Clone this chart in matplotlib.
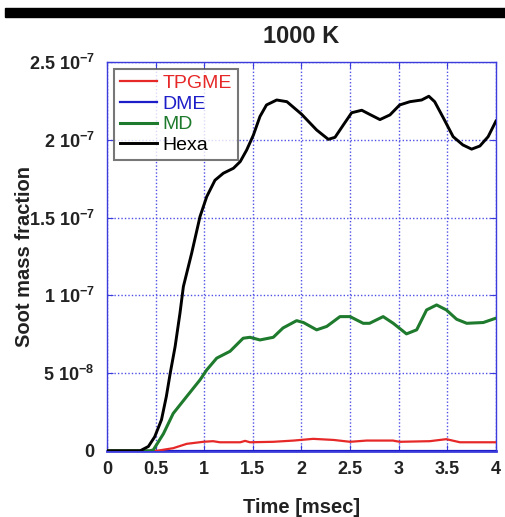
import matplotlib
matplotlib.use("Agg")
import matplotlib.pyplot as plt
import numpy as np
from matplotlib.ticker import FixedLocator, FixedFormatter

plt.rcParams['font.family'] = ['Liberation Sans', 'DejaVu Sans']
plt.rcParams['mathtext.fontset'] = 'custom'
plt.rcParams['mathtext.rm'] = 'Liberation Sans:bold'
plt.rcParams['mathtext.default'] = 'rm'

# data, soot mass fraction in units of 1e-7
hexa_t = [0, 0.34, 0.425, 0.49, 0.56, 0.61, 0.65, 0.70, 0.75, 0.785, 0.87, 0.956,
          1.025, 1.11, 1.196, 1.30, 1.37, 1.436, 1.505, 1.573, 1.64, 1.745, 1.85,
          2.00, 2.156, 2.276, 2.345, 2.43, 2.516, 2.62, 2.70, 2.807, 2.91, 3.01,
          3.115, 3.236, 3.31, 3.37, 3.46, 3.56, 3.66, 3.75, 3.835, 3.92, 4.0]
hexa_y = [0, 0, 0.028, 0.09, 0.20, 0.35, 0.50, 0.67, 0.885, 1.056, 1.27, 1.506,
          1.634, 1.74, 1.785, 1.817, 1.86, 1.934, 2.03, 2.15, 2.224, 2.256, 2.245,
          2.165, 2.063, 2.003, 2.016, 2.095, 2.174, 2.19, 2.164, 2.13, 2.16, 2.224,
          2.245, 2.256, 2.28, 2.245, 2.14, 2.02, 1.967, 1.94, 1.96, 2.02, 2.12]

md_t = [0, 0.44, 0.476, 0.58, 0.68, 0.82, 0.956, 1.025, 1.128, 1.265, 1.40, 1.47,
        1.573, 1.71, 1.81, 1.95, 2.02, 2.156, 2.26, 2.396, 2.50, 2.635, 2.70, 2.84,
        2.944, 3.08, 3.185, 3.287, 3.39, 3.49, 3.596, 3.70, 3.87, 4.0]
md_y = [0, 0, 0.006, 0.11, 0.24, 0.35, 0.456, 0.52, 0.596, 0.64, 0.724, 0.73,
        0.713, 0.73, 0.79, 0.837, 0.825, 0.778, 0.80, 0.863, 0.863, 0.82, 0.82, 0.863,
        0.82, 0.752, 0.778, 0.906, 0.938, 0.906, 0.846, 0.82, 0.825, 0.853]

tpgme_t = [0, 0.51, 0.68, 0.82, 0.99, 1.09, 1.16, 1.37, 1.42, 1.47, 1.71, 1.92,
           2.12, 2.33, 2.5, 2.67, 2.94, 3.01, 3.32, 3.49, 3.63, 4.0]
tpgme_y = [0, 0, 0.017, 0.045, 0.058, 0.062, 0.055, 0.055, 0.064, 0.055, 0.058, 0.066,
           0.077, 0.07, 0.058, 0.066, 0.066, 0.058, 0.062, 0.075, 0.055, 0.055]

dme_t = [0, 4.0]
dme_y = [0, 0]

x_ticks = [0, 0.5, 1, 1.5, 2, 2.5, 3, 3.5, 4]
x_labels = ['0', '0.5', '1', '1.5', '2', '2.5', '3', '3.5', '4']
y_ticks = [0, 0.5e-7, 1e-7, 1.5e-7, 2e-7, 2.5e-7]
y_labels = ['0', '5 10$^{-8}$', '1 10$^{-7}$', '1.5 10$^{-7}$', '2 10$^{-7}$', '2.5 10$^{-7}$']

blue = '#3c3cdc'
txt = '#222222'

fig = plt.figure(figsize=(5.05, 5.17), dpi=100)
ax = fig.add_axes([0.212, 0.128, 0.770, 0.752])

ax.plot(tpgme_t, np.array(tpgme_y) * 1e-7, color='#e62828', lw=1.6, label='TPGME', zorder=4)
ax.plot(dme_t, np.array(dme_y) * 1e-7, color='#1e1ec8', lw=1.6, label='DME', zorder=3)
ax.plot(md_t, np.array(md_y) * 1e-7, color='#1e7a2c', lw=2.2, label='MD', zorder=5)
ax.plot(hexa_t, np.array(hexa_y) * 1e-7, color='black', lw=2.1, label='Hexa', zorder=6)

ax.set_xlim(0, 4)
ax.set_ylim(0, 2.5e-7)
ax.xaxis.set_major_locator(FixedLocator(x_ticks))
ax.xaxis.set_major_formatter(FixedFormatter(x_labels))
ax.yaxis.set_major_locator(FixedLocator(y_ticks))
ax.yaxis.set_major_formatter(FixedFormatter(y_labels))

ax.grid(True, color='#5050e6', linestyle=(0, (1, 1.5)), linewidth=1.0)
for s in ax.spines.values():
    s.set_color(blue)
    s.set_linewidth(1.0)
ax.spines['bottom'].set_linewidth(2.0)

ax.tick_params(direction='in', length=4, color=blue, top=True, right=True,
               labelsize=13, labelcolor=txt)
ax.tick_params(axis='y', pad=9)
ax.tick_params(axis='x', pad=7)
for lab in ax.get_xticklabels() + ax.get_yticklabels():
    lab.set_fontweight('bold')

ax.set_xlabel('Time [msec]', fontsize=14.5, fontweight='bold', color=txt, labelpad=15)
ax.set_ylabel('Soot mass fraction', fontsize=14.5, fontweight='bold', color=txt, labelpad=-4)
ax.set_title('1000 K', fontsize=17, fontweight='bold', color=txt, pad=14)

leg = ax.legend(loc='upper left', fontsize=14, frameon=True, fancybox=False,
                handlelength=1.9, handletextpad=0.3, labelspacing=0.15,
                borderaxespad=0.35, borderpad=0.3, labelcolor='linecolor')
leg.get_frame().set_edgecolor('#555555')
leg.get_frame().set_linewidth(1.5)

# black bar at the top of the page scan
fig.patches.append(plt.Rectangle((0.01, 1 - 17 / 517), 0.99, 9 / 517,
                                 transform=fig.transFigure, color='black'))

fig.savefig('out.png', dpi=100)
